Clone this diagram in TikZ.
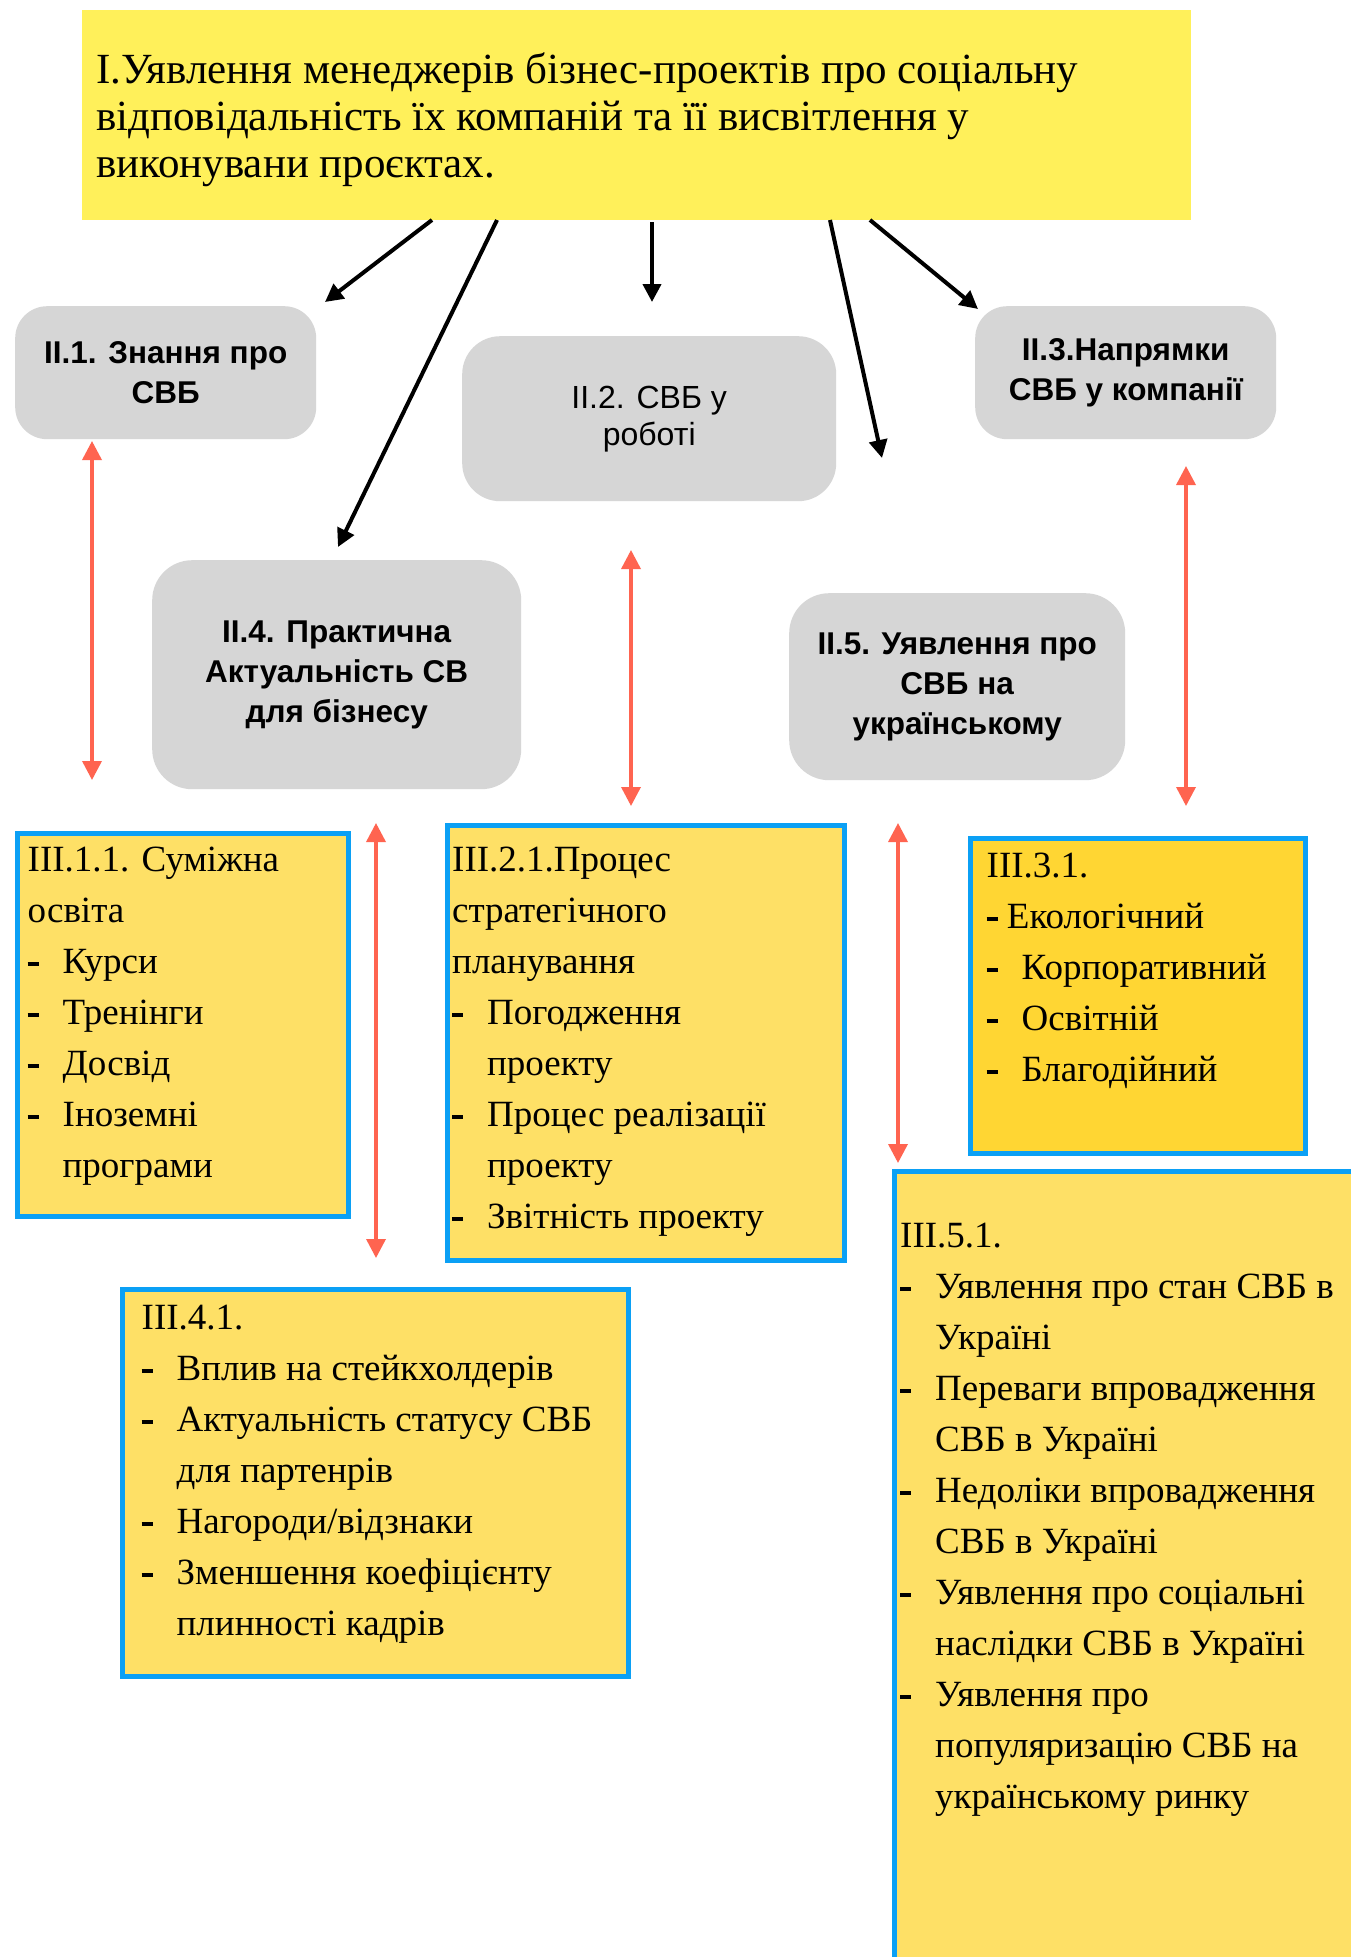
\documentclass[tikz,border=0pt]{standalone}
\usepackage{fontspec}
\setmainfont{Liberation Serif}
\newfontfamily\sansf{Liberation Sans}
\usetikzlibrary{arrows.meta}
\definecolor{topyel}{HTML}{FFF05A}
\definecolor{boxyel}{HTML}{FEE066}
\definecolor{goldyel}{HTML}{FFD633}
\definecolor{bluec}{HTML}{0BA0F5}
\definecolor{grayc}{HTML}{D6D6D6}
\definecolor{redc}{HTML}{FF6450}
\newcommand{\dsh}{\rule[7pt]{11pt}{4pt}}
\newcommand{\itm}{\makebox[35pt][l]{\dsh}}
\newcommand{\cnt}{\hspace*{35pt}}
\newcommand{\fst}{\rule{0pt}{28pt}}
\tikzset{
  graybox/.style={fill=grayc, rounded corners=#1, anchor=north west, inner sep=0pt, align=center, text=black},
  grayb/.style={font={\sansf\bfseries\fontsize{31.5}{40}\selectfont}},
  grayr/.style={font={\sansf\fontsize{32}{37}\selectfont}},
  listbox/.style={draw=bluec, line width=5pt, fill=#1, anchor=north west, inner sep=0pt},
  listtext/.style={anchor=north west, inner sep=0pt, align=left, font={\fontsize{37}{51}\selectfont}},
  blackarrow/.style={-{Triangle[length=18pt,width=18pt]}, line width=4pt, draw=black},
  redarrow/.style={{Triangle[length=19pt,width=19pt]}-{Triangle[length=19pt,width=19pt]}, line width=3.5pt, draw=redc}
}
\begin{document}
\begin{tikzpicture}[x=1pt,y=-1pt]
\useasboundingbox (0,0) rectangle (1351,1957);
\clip (0,0) rectangle (1351,1957);
\fill[white] (0,0) rectangle (1351,1957);

% top box
\node[fill=topyel, anchor=north west, inner sep=0pt, minimum width=1109pt, minimum height=210pt] (top) at (82,10) {};
\node[anchor=north west, inner sep=0pt, align=left, font={\fontsize{43}{47}\selectfont}] (toptext) at (96,51)
  {\rule{0pt}{32pt}I.Уявлення менеджерів бізнес-проектів про соціальну\\
   відповідальність їх компаній та її висвітлення у\\
   виконувани проєктах.};

% gray boxes
\node[graybox=32pt, grayb, minimum width=301pt, minimum height=133pt] (b21) at (15,306) {II.1. Знання про\\СВБ};
\node[graybox=38pt, grayr, minimum width=374pt, minimum height=165pt] (b22) at (462,336) {II.2. СВБ у\\роботі};
\node[graybox=32pt, grayb, minimum width=301pt, minimum height=133pt] (b23) at (975,306) {II.3.Напрямки\\СВБ у компанії};
\node[graybox=40pt, grayb, minimum width=369pt, minimum height=229pt] (b24) at (152,560) {II.4. Практична\\Актуальність СВ\\для бізнесу};
\node[graybox=40pt, grayb, minimum width=336pt, minimum height=187pt] (b25) at (789,593) {II.5. Уявлення про\\СВБ на\\українському};

% list boxes
\node[listbox=boxyel, minimum width=331pt, minimum height=383pt] (b311) at (15,830.5) {};
\node[listbox=boxyel, minimum width=397pt, minimum height=435pt] (b321) at (444.5,822.5) {};
\node[listbox=goldyel, minimum width=335pt, minimum height=315pt] (b331) at (967.5,835.5) {};
\node[listbox=boxyel, minimum width=506pt, minimum height=387pt] (b341) at (119.5,1286.5) {};
\node[listbox=boxyel, minimum width=478pt, minimum height=820pt] (b351) at (891.5,1168.5) {};

\node[listtext] (t311) at (27.5,843) {\fst III.1.1. Суміжна\\освіта\\\itm Курси\\\itm Тренінги\\\itm Досвід\\\itm Іноземні\\\cnt програми};
\node[listtext] (t321) at (452,843) {\fst III.2.1.Процес\\стратегічного\\планування\\\itm Погодження\\\cnt проекту\\\itm Процес реалізації\\\cnt проекту\\\itm Звітність проекту};
\node[listtext] (t331) at (986.5,849) {\fst III.3.1.\\\dsh\ Екологічний\\\itm Корпоративний\\\itm Освітній\\\itm Благодійний};
\node[listtext] (t341) at (141.5,1301) {\fst III.4.1.\\\itm Вплив на стейкхолдерів\\\itm Актуальність статусу СВБ\\\cnt для партенрів\\\itm Нагороди/відзнаки\\\itm Зменшення коефіцієнту\\\cnt плинності кадрів};
\node[listtext] (t351) at (900,1219) {\fst III.5.1.\\\itm Уявлення про стан СВБ в\\\cnt Україні\\\itm Переваги впровадження\\\cnt СВБ в Україні\\\itm Недоліки впровадження\\\cnt СВБ в Україні\\\itm Уявлення про соціальні\\\cnt наслідки СВБ в Україні\\\itm Уявлення про\\\cnt популяризацію СВБ на\\\cnt українському ринку};

% black arrows
\coordinate (a1s) at (432,220); \coordinate (a1e) at (325,302);
\coordinate (a2s) at (497,220); \coordinate (a2e) at (338,547);
\coordinate (a3s) at (652,222); \coordinate (a3e) at (652,302);
\coordinate (a4s) at (830,220); \coordinate (a4e) at (882,458);
\coordinate (a5s) at (870,220); \coordinate (a5e) at (978,309);
\draw[blackarrow] (a1s) -- (a1e);
\draw[blackarrow] (a2s) -- (a2e);
\draw[blackarrow] (a3s) -- (a3e);
\draw[blackarrow] (a4s) -- (a4e);
\draw[blackarrow] (a5s) -- (a5e);

% red double arrows
\coordinate (r1a) at (92,441);   \coordinate (r1b) at (92,780);
\coordinate (r2a) at (631,550);  \coordinate (r2b) at (631,806);
\coordinate (r3a) at (1186,466); \coordinate (r3b) at (1186,806);
\coordinate (r4a) at (376,823);  \coordinate (r4b) at (376,1258);
\coordinate (r5a) at (898,823);  \coordinate (r5b) at (898,1163);
\draw[redarrow] (r1a) -- (r1b);
\draw[redarrow] (r2a) -- (r2b);
\draw[redarrow] (r3a) -- (r3b);
\draw[redarrow] (r4a) -- (r4b);
\draw[redarrow] (r5a) -- (r5b);
\end{tikzpicture}
\end{document}
